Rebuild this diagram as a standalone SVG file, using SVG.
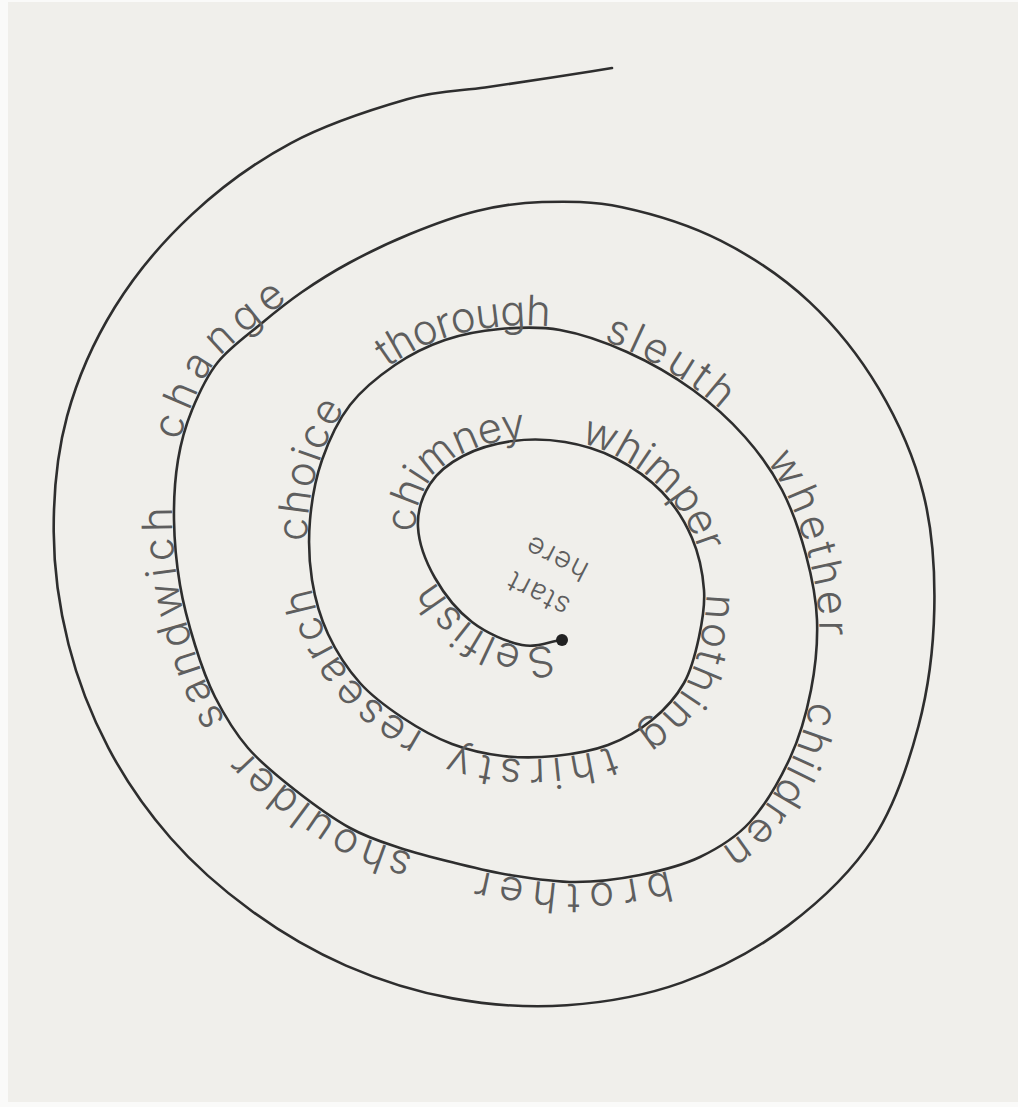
<svg xmlns="http://www.w3.org/2000/svg" xmlns:xlink="http://www.w3.org/1999/xlink" width="1018" height="1107" viewBox="0 0 1018 1107">
<style>
.line{fill:none;stroke:#2e2e2e;stroke-width:2.6;stroke-linecap:round;stroke-linejoin:round}
.word{font-family:"Inter","Open Sans","Noto Sans",sans-serif;font-weight:300;font-size:42px;fill:#5e5e5e}
.small{font-family:"Inter","Open Sans","Noto Sans",sans-serif;font-weight:300;font-size:29px;fill:#5e5e5e;letter-spacing:1.5px}
</style>
<defs>
<path id="spiral" d="M561,640 C548,641.7 536.8,648 522,645 S486.5,633.2 472,622 S444,593.8 435,578 S418.8,542.7 418,527 S422.5,495.8 430,484 S449.2,463.2 463,456 S496,443.3 513,441 S548,439.2 565,442 S598.8,449.7 615,458 S649.2,478.7 662,492 S685,521.7 692,538 S702.8,573.5 704,590 S702.3,621.5 699,637 S691.8,669.2 684,683 S664.7,709.7 652,720 S624.2,739 608,745 S572.5,754.2 555,756 S520.2,758 503,756 S468.7,750.3 452,744 S418.3,728.2 403,718 S372.5,697 360,683 S336,651.2 328,634 S315,599 312,580 S308.3,540 310,520 S315.3,479.2 322,460 S337.8,420.8 350,405 S379.2,375.8 395,365 S427.5,346 445,340 S480.8,330.7 500,329 S538.8,326.2 560,330 S604.8,342 627,352 S673.3,375.8 693,390 S730.2,420.3 745,437 S771.8,470.3 782,490 S800.2,533.3 806,555 S816.2,597.5 817,620 S815.5,667 811,690 S800.2,736 790,758 S765,805.5 750,822 S718.3,848.2 700,857 S660.8,870.8 640,875 S596.7,882 575,882 S530,878.2 510,875 S473.3,867.5 455,863 S417.5,853.8 400,848 S367.5,837.7 350,828 S312,803.3 295,790 S261.3,763.5 248,748 S223.8,714.2 215,697 S200.8,663.7 195,645 S183.5,605.8 180,585 S174.3,540.8 174,520 S175,478.3 178,460 S185.3,426.3 192,410 S206.3,376.5 218,362 S248,334.7 262,323 S287.5,302 302,292 S331,272.7 349,263 S388.7,242.7 410,234 S455,216.3 477,211 S517.8,202.6 542,202 S592.2,200.9 622,207.3 S689.4,224.9 720.6,240.7 S783,277.2 809.4,301.9 S859.8,356.7 878.8,388.7 S914,456.9 923.3,493.6 S935.1,570.2 934.3,608.9 S928.6,687.8 918.5,726 S895.1,805.2 873.4,838.4 S820.1,901.4 788.3,925.4 S719.2,969.1 682.3,982.4 S605,1002.6 566.7,1005.3 S489.3,1005 452.5,998.4 S379.5,980.2 346,965.6 S280.6,932.1 251.4,910.8 S194.4,865.2 170.6,838 S125.4,780.2 108.4,747.9 S77.6,680.3 68.5,644.3 S53.9,569.8 53.7,531.8 S56.9,453.5 67.1,416.1 S94,340.9 114.8,307.3 S162.3,242 191.7,214.6 S255.1,162.3 291,143.1 S374.7,108.6 407,99.3 S460.8,91.1 485,87.5 S530.8,80.75 552,77.5 S592,71.2 612,68"/>
</defs>
<rect x="0" y="0" width="1018" height="1107" fill="#fafaf9"/>
<rect x="8" y="2" width="1010" height="1100" fill="#f0efeb"/>
<g id="connectors">
<use xlink:href="#spiral" href="#spiral" class="line"/>
<circle cx="562" cy="640" r="6" fill="#222"/>
</g>
<g id="words">
<text id="w-selfish" class="word" dy="-2"><textPath href="#spiral" xlink:href="#spiral" startOffset="10" textLength="141" lengthAdjust="spacing">Selfish</textPath></text>
<text id="w-chimney" class="word" dy="-2"><textPath href="#spiral" xlink:href="#spiral" startOffset="202" textLength="160" lengthAdjust="spacing">chimney</textPath></text>
<text id="w-whimper" class="word" dy="-2"><textPath href="#spiral" xlink:href="#spiral" startOffset="415" textLength="168" lengthAdjust="spacing">whimper</textPath></text>
<text id="w-nothing" class="word" dy="-2"><textPath href="#spiral" xlink:href="#spiral" startOffset="624" textLength="161" lengthAdjust="spacing">nothing</textPath></text>
<text id="w-thirsty" class="word" dy="-2"><textPath href="#spiral" xlink:href="#spiral" startOffset="814" textLength="161" lengthAdjust="spacing">thirsty</textPath></text>
<text id="w-research" class="word" dy="-2"><textPath href="#spiral" xlink:href="#spiral" startOffset="1005" textLength="190" lengthAdjust="spacing">research</textPath></text>
<text id="w-choice" class="word" dy="-2"><textPath href="#spiral" xlink:href="#spiral" startOffset="1240" textLength="140" lengthAdjust="spacing">choice</textPath></text>
<text id="w-thorough" class="word" dy="-2"><textPath href="#spiral" xlink:href="#spiral" startOffset="1438" textLength="170" lengthAdjust="spacing">thorough</textPath></text>
<text id="w-sleuth" class="word" dy="-2"><textPath href="#spiral" xlink:href="#spiral" startOffset="1662" textLength="137" lengthAdjust="spacing">sleuth</textPath></text>
<text id="w-whether" class="word" dy="-2"><textPath href="#spiral" xlink:href="#spiral" startOffset="1866" textLength="185" lengthAdjust="spacing">whether</textPath></text>
<text id="w-children" class="word" dy="-2"><textPath href="#spiral" xlink:href="#spiral" startOffset="2116" textLength="176" lengthAdjust="spacing">children</textPath></text>
<text id="w-brother" class="word" dy="-2"><textPath href="#spiral" xlink:href="#spiral" startOffset="2348" textLength="192" lengthAdjust="spacing">brother</textPath></text>
<text id="w-shoulder" class="word" dy="-2"><textPath href="#spiral" xlink:href="#spiral" startOffset="2606" textLength="199" lengthAdjust="spacing">shoulder</textPath></text>
<text id="w-sandwich" class="word" dy="-2"><textPath href="#spiral" xlink:href="#spiral" startOffset="2840" textLength="222" lengthAdjust="spacing">sandwich</textPath></text>
<text id="w-change" class="word" dy="-2"><textPath href="#spiral" xlink:href="#spiral" startOffset="3128" textLength="182" lengthAdjust="spacing">change</textPath></text>
</g>
<g id="start-here" transform="translate(538,594) rotate(207)">
<text class="small" x="0" y="10" text-anchor="middle">start</text>
<text class="small" x="0" y="50" text-anchor="middle">here</text>
</g>
</svg>
